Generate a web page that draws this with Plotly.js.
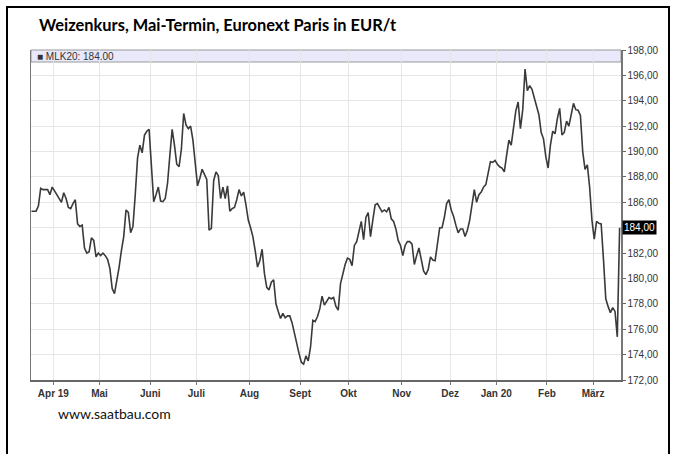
<!DOCTYPE html>
<html>
<head>
<meta charset="utf-8">
<script src="https://cdn.plot.ly/plotly-3.0.1.min.js"></script>
<style>
html,body{margin:0;padding:0;background:#fff;overflow:hidden;}
#wrap{position:relative;width:674px;height:454px;overflow:hidden;}
#chart{position:absolute;left:0;top:0;width:674px;height:454px;}
#frame{position:absolute;left:6px;top:6px;width:660px;height:520px;border:2px solid #000;pointer-events:none;}
</style>
</head>
<body>
<div id="wrap"><div id="chart"></div><div id="frame"></div></div>
<script>
// Daily settlement prices (EUR/t), MATIF wheat May 2020 contract, per trading day, grouped by month
const mar19 = [185.3,185.3,185.3,185.7,187.1,187.0,187.0,187.0,186.6,187.2];
const apr19 = [186.9,186.6,186.4,186.0,186.75,186.3,185.6,185.5,185.9,186.2,184.3,184.1,184.2,182.4,182.0,182.1,183.2,183.0,181.7,182.0];
const may19 = [181.8,182.0,181.8,181.5,180.8,179.2,178.8,179.8,180.9,182.2,183.3,185.4,185.2,183.6,184.1,186.6,189.5,190.5,189.9,191.3,191.6,191.75];
const jun19 = [188.8,186.05,186.6,187.2,186.1,186.05,186.3,187.5,189.7,191.75,190.5,189.0,188.8,190.2,193.0,192.1,191.8,192.0,190.9,189.2];
const jul19 = [187.3,187.9,188.6,188.2,187.8,183.8,183.95,187.7,188.4,188.1,186.3,187.2,186.3,187.3,185.3,185.5,185.6,186.2,187.0,186.5,186.8,185.8,184.6];
const aug19 = [184.0,183.3,182.2,180.9,181.4,182.3,180.4,179.3,179.1,179.7,179.9,178.0,177.4,176.85,177.25,176.9,177.05,177.05,176.5,175.6,174.9,174.1];
const sep19 = [173.4,173.25,173.9,173.5,174.6,176.7,176.6,177.0,177.6,178.6,177.9,178.2,178.5,178.4,178.5,177.8,177.5,179.6,180.5,181.1,181.6];
const oct19 = [181.5,181.0,182.6,182.9,183.7,184.5,183.05,184.8,185.2,183.3,184.6,185.8,185.9,185.6,185.25,185.4,185.25,185.6,184.7,184.5,183.9,183.0,182.6];
const nov19 = [181.8,182.6,182.9,182.9,182.7,181.1,181.8,182.4,181.5,180.6,180.3,180.7,181.7,181.45,181.4,182.8,184.0,184.0,184.8,185.9,186.2];
const dec19 = [185.4,184.9,184.2,183.6,183.9,183.9,183.3,183.8,184.6,186.0,187.0,186.0,186.6,186.8,187.2,187.4,188.3,189.2,189.15,189.3];
const jan20 = [189.0,188.8,188.7,188.4,189.7,190.9,190.5,191.9,193.2,193.9,191.8,193.3,196.5,194.8,195.2,194.9,194.2,193.6,192.9,191.5,191.0,189.6];
const feb20 = [188.7,190.5,191.6,191.4,192.6,193.4,191.3,191.5,192.4,192.0,192.8,193.8,193.3,193.25,192.85,190.0,188.6,188.95,187.2,184.6];
const mar20 = [183.1,184.5,184.35,184.3,181.5,178.4,177.8,177.3,177.7,177.4,175.4,184.0];

const contractName = 'MLK20';
const titleText = 'Weizenkurs, Mai-Termin, Euronext Paris in EUR/t';
const sourceText = 'www.saatbau.com';
const monthLabels = ['Apr 19','Mai','Juni','Juli','Aug','Sept','Okt','Nov','Dez','Jan 20','Feb','März'];
const labelledMonths = [apr19,may19,jun19,jul19,aug19,sep19,oct19,nov19,dec19,jan20,feb20,mar20];
const yTicks = [172,174,176,178,180,182,184,186,188,190,192,194,196,198];

const allMonths = [mar19].concat(labelledMonths);
const prices = [].concat(...allMonths);
const xIdx = prices.map((_, i) => i);
// month boundaries (index of first trading day minus half a day)
const tickPos = [];
let acc = mar19.length;
labelledMonths.forEach(m => { tickPos.push(acc - 0.5); acc += m.length; });
const last = prices[prices.length - 1];
const fmt = v => v.toFixed(2).replace('.', ',');
// the tick equal to the last price is shown by the highlighted marker label instead
const yTickText = yTicks.map(v => (v === last ? '' : fmt(v)));

const tickFont = {family: '"Liberation Sans", Arial, sans-serif', size: 10, color: '#333'};

const trace = {
  x: xIdx, y: prices, type: 'scatter', mode: 'lines',
  line: {color: '#3a3a3a', width: 1.6}, hoverinfo: 'skip', showlegend: false
};

const layout = {
  width: 674, height: 454,
  margin: {l: 31, r: 53, t: 50, b: 74},
  paper_bgcolor: '#ffffff', plot_bgcolor: '#ffffff',
  showlegend: false,
  title: {
    text: '<b>' + titleText + '</b>',
    font: {family: 'Lato, "Open Sans", sans-serif', size: 16.4, color: '#000'},
    xref: 'container', yref: 'container', x: 0.058, xanchor: 'left', y: 0.945, yanchor: 'middle'
  },
  xaxis: {
    range: [-0.2, 255.6],
    tickmode: 'array', tickvals: tickPos, ticktext: monthLabels.map(t => '<b>' + t + '</b>'),
    tickfont: tickFont,
    ticks: 'outside', ticklen: 3, tickcolor: '#777',
    showgrid: true, gridcolor: '#e6e6e6', gridwidth: 1,
    showline: true, linecolor: '#666', linewidth: 2, mirror: false,
    zeroline: false, fixedrange: true
  },
  yaxis: {
    side: 'right', range: [172, 198],
    tickmode: 'array', tickvals: yTicks, ticktext: yTickText,
    tickfont: tickFont,
    ticks: 'outside', ticklen: 3, tickcolor: '#666',
    showgrid: true, gridcolor: '#e6e6e6', gridwidth: 1,
    showline: true, linecolor: '#777', linewidth: 1.5, mirror: true,
    zeroline: false, fixedrange: true
  },
  shapes: [
    {type: 'rect', xref: 'paper', yref: 'paper', x0: 0, x1: 1, y0: 0.9636, y1: 1,
     fillcolor: '#e9e9fb', line: {color: '#999', width: 1}, layer: 'below'}
  ],
  annotations: [
    {xref: 'paper', yref: 'paper', x: 0.006, y: 0.9818, xanchor: 'left', yanchor: 'middle', showarrow: false,
     text: '■ ' + contractName + ': ' + last.toFixed(2),
     font: {family: '"Liberation Sans", Arial, sans-serif', size: 10, color: '#333'}},
    {xref: 'paper', yref: 'y', x: 1, y: last, xanchor: 'left', yanchor: 'middle', xshift: 1, showarrow: false,
     text: fmt(last), bgcolor: '#000', borderpad: 1,
     font: {family: '"Liberation Sans", Arial, sans-serif', size: 10, color: '#fff'}},
    {xref: 'paper', yref: 'paper', x: 0.0425, y: -0.1, xanchor: 'left', yanchor: 'middle', showarrow: false,
     text: sourceText,
     font: {family: 'Lato, "Open Sans", sans-serif', size: 14, color: '#111'}}
  ]
};

Plotly.newPlot('chart', [trace], layout, {displayModeBar: false, staticPlot: true});
</script>
</body>
</html>
